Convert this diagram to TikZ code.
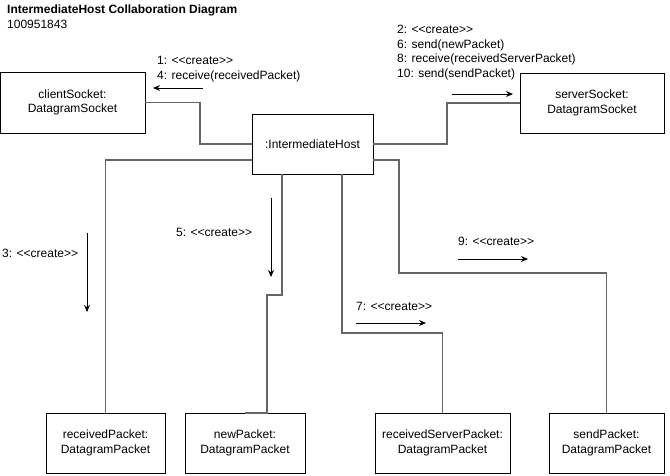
\documentclass[tikz,border=0pt]{standalone}
\usepackage{fontspec}
\setmainfont{Liberation Sans}[Ligatures=TeXOff]
\usetikzlibrary{positioning,arrows.meta}
\begin{document}
\begin{tikzpicture}[x=1pt,y=-1pt,>={Stealth[length=7pt,width=6pt]},obj/.style = {draw, rectangle, inner sep=0pt, outer sep=0pt, align=center, minimum height=60pt, font=\fontsize{12}{14.4}\selectfont},link/.style = {draw=black!60, line width=1.4pt},msg/.style = {->, line width=0.9pt},txt/.style = {anchor=west, inner sep=0pt, align=left, font=\fontsize{12}{14.4}\selectfont},]
\useasboundingbox (0,0) rectangle (670,475);
\node (title) at (7,10)[txt,font=\fontsize{12}{14.4}\selectfont\bfseries] {IntermediateHost Collaboration Diagram};
\node (id) at (7,24)[txt] {100951843};
\node (client) at (72.5,102.5)[obj,minimum width=145pt,minimum height=61pt] {clientSocket:\\DatagramSocket};
\node (host) at (312.5,144)[obj,minimum width=121pt] {:IntermediateHost};
\node (server) at (592,103)[obj,minimum width=144pt] {serverSocket:\\DatagramSocket};
\node (rp) at (105.5,443)[obj,minimum width=119pt] {receivedPacket:\\DatagramPacket};
\node (np) at (245,443)[obj,minimum width=120pt] {newPacket:\\DatagramPacket};
\node (rsp) at (442.5,443)[obj,minimum width=135pt] {receivedServerPacket:\\DatagramPacket};
\node (sp) at (606.5,443)[obj,minimum width=115pt] {sendPacket:\\DatagramPacket};
%Links between objects
\draw[link] (client.east) -- (200,102.5) |- (host.west);
\draw[link] (host.east) -- (447,144) |- (server.west);
\draw[link] ([yshift=-16pt]host.west) -| (rp.north);
\draw[link] ([xshift=-30.5pt]host.south) -- (282,295) -- (267,295) -- (267,413) -- (np.north);
\draw[link] ([xshift=29.5pt]host.south) -- (342,333) -| (rsp.north);
\draw[link] ([yshift=-16pt]host.east) -- (399,160) -- (399,273) -| (sp.north);
%Messages
\node (m1) at (157,69)[txt] {1: <<create>>\\4: receive(receivedPacket)};
\node (m2) at (397,52.5)[txt] {2: <<create>>\\6: send(newPacket)\\8: receive(receivedServerPacket)\\10: send(sendPacket)};
\node (m3) at (2,253)[txt] {3: <<create>>};
\node (m5) at (176,232)[txt] {5: <<create>>};
\node (m7) at (356,306)[txt] {7: <<create>>};
\node (m9) at (458,241)[txt] {9: <<create>>};
\draw[msg] (203,88) -- (153,88);
\draw[msg] (452,94) -- (513,94);
\draw[msg] (87,233) -- (87,312);
\draw[msg] (271,198) -- (271,277);
\draw[msg] (356,323) -- (426,323);
\draw[msg] (458,259) -- (528,259);
\end{tikzpicture}
\end{document}
